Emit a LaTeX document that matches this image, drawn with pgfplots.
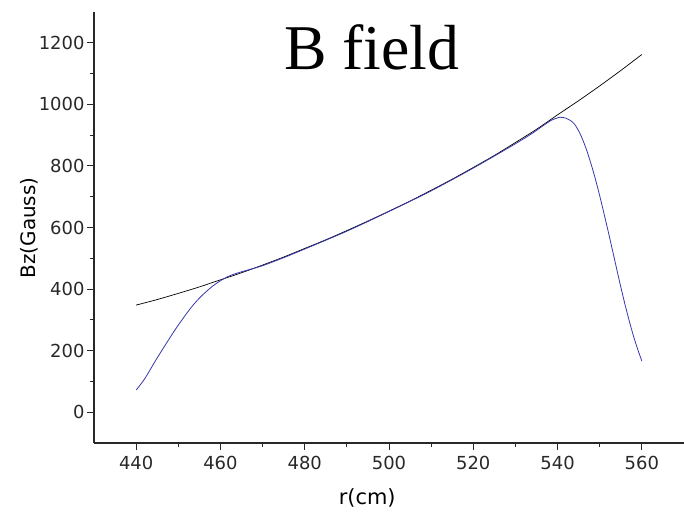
\documentclass[border=0pt]{standalone}
\usepackage{fontspec}
\setmainfont{DejaVu Sans}
\newfontfamily\titlefont{Liberation Serif}
\usepackage{pgfplots}
\pgfplotsset{compat=1.18}
\definecolor{bline}{RGB}{55,55,175}
\definecolor{axc}{RGB}{40,40,40}
\begin{document}
\begin{tikzpicture}
\useasboundingbox (-94bp,-72bp) rectangle (590bp,443bp);
\begin{axis}[
  scale only axis,
  width=590bp, height=431bp,
  xmin=430, xmax=570, ymin=-100, ymax=1300,
  axis lines=left,
  axis line style={-, line width=1.1bp, color=axc},
  xtick={440,460,...,560},
  ytick={0,200,...,1200},
  minor x tick num=1,
  minor y tick num=1,
  tick align=outside,
  major tick length=7bp,
  minor tick length=4bp,
  every tick/.style={line width=1bp, color=axc},
  /pgf/number format/assume math mode=true,
  /pgf/number format/1000 sep={},
  ticklabel style={font=\fontsize{18}{20}\selectfont, color=axc},
  xticklabel style={yshift=-3bp},
  yticklabel style={xshift=1bp},
  xlabel={r(cm)},
  ylabel={Bz(Gauss)},
  xlabel style={font=\fontsize{21}{24}\selectfont, at={(axis description cs:0.463,-0.128)}, anchor=center},
  ylabel style={font=\fontsize{20}{22}\selectfont, at={(axis description cs:-0.11,0.499)}, anchor=center},
  clip=false,
]
\addplot[black, line width=0.7bp, smooth] coordinates {
(440,348) (445,366) (450,386) (455,407) (460,430) (465,453) (470,478)
(475,504) (480,532) (485,560) (490,590) (495,621) (500,653) (505,686)
(510,721) (515,757) (520,795) (525,834) (530,876) (535,919) (540,966)
(545,1012) (550,1060) (555,1110) (560,1162)
};
\addplot[bline, line width=0.8bp, smooth, tension=0.5] coordinates {
(440,72) (442,108) (444.8,172) (447,220) (449.6,275) (452.7,334) (455.1,372)
(458,408) (460,427) (462,442) (464,452) (466,460) (470,476) (475,502)
(480,530) (490,588) (500,652) (510,719) (520,793) (530,872) (534,906)
(536.5,930) (538.5,948) (540.5,958) (542,955) (543,948) (544,936) (545,914)
(546,884) (547,847) (548,804) (549,756) (550,703) (551,646) (552,588)
(553,528) (554,467) (555,407) (556,350) (557,297) (558,248) (559,205) (560,166)
};
\node[font=\titlefont\fontsize{64}{70}\selectfont, anchor=base] at (axis cs:495.9,1112) {B field};
\end{axis}
\end{tikzpicture}
\end{document}
